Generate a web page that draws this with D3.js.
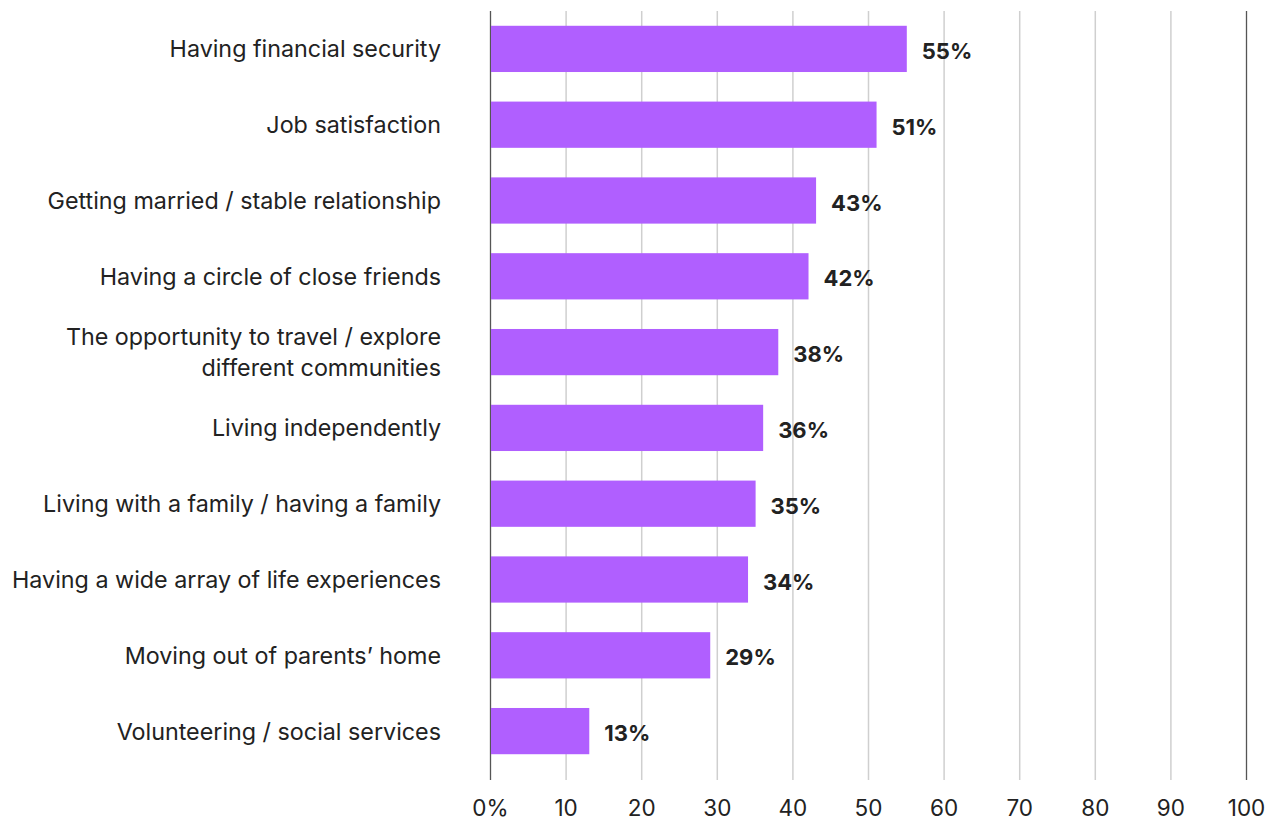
<!DOCTYPE html>
<html>
<head>
<meta charset="utf-8">
<script src="https://cdn.jsdelivr.net/npm/d3@7"></script>
<style>
  html, body { margin: 0; padding: 0; background: #fff; }
  svg { display: block; font-family: Inter, "Noto Sans", sans-serif; }
</style>
</head>
<body>
<svg id="chart" width="1274" height="830"></svg>
<script>
// Categories, top to bottom (multi-line labels split on "\n")
const categories = [
  "Having financial security",
  "Job satisfaction",
  "Getting married / stable relationship",
  "Having a circle of close friends",
  "The opportunity to travel / explore\ndifferent communities",
  "Living independently",
  "Living with a family / having a family",
  "Having a wide array of life experiences",
  "Moving out of parents\u2019 home",
  "Volunteering / social services"
];
const values = [55, 51, 43, 42, 38, 36, 35, 34, 29, 13];
const tickValues = [0, 10, 20, 30, 40, 50, 60, 70, 80, 90, 100];
const tickLabels = ["0%", "10", "20", "30", "40", "50", "60", "70", "80", "90", "100"];

const svg = d3.select("#chart");
const plotLeft = 490, plotRight = 1246, plotTop = 11, plotBottom = 769, gridBottom = 780;

const x = d3.scaleLinear().domain([0, 100]).range([plotLeft, plotRight]);
const y = d3.scaleBand().domain(categories).range([plotTop, plotBottom]).paddingInner(0.39).paddingOuter(0.195);

// vertical gridlines
svg.append("g").selectAll("line")
  .data(tickValues)
  .join("line")
  .attr("x1", d => x(d) + 0.5).attr("x2", d => x(d) + 0.5)
  .attr("y1", plotTop).attr("y2", gridBottom)
  .attr("stroke", d => (d === 0 || d === 100) ? "#555" : "#cfcfcf")
  .attr("stroke-width", d => (d === 0 || d === 100) ? 1.3 : 1.5);

// bars
svg.append("g").selectAll("rect")
  .data(values)
  .join("rect")
  .attr("x", x(0) + 1)
  .attr("y", (d, i) => y(categories[i]))
  .attr("width", d => x(d) - x(0))
  .attr("height", y.bandwidth())
  .attr("fill", "#b05fff");

// value labels
svg.append("g").selectAll("text")
  .data(values)
  .join("text")
  .attr("x", d => x(d) + 16)
  .attr("y", (d, i) => y(categories[i]) + y.bandwidth() / 2 + 2)
  .attr("dominant-baseline", "central")
  .attr("font-size", 22)
  .attr("font-weight", 700)
  .attr("fill", "#222")
  .text(d => d + "%");

// category labels
const catG = svg.append("g");
categories.forEach(c => {
  const lines = c.split("\n");
  const cy = y(c) + y.bandwidth() / 2;
  const lh = 31;
  const t = catG.append("text")
    .attr("text-anchor", "end")
    .attr("font-size", 23.3)
    .attr("fill", "#222");
  lines.forEach((ln, j) => {
    t.append("tspan")
      .attr("x", 441)
      .attr("y", cy + (j - (lines.length - 1) / 2) * lh)
      .attr("dominant-baseline", "central")
      .text(ln);
  });
});

// x axis tick labels
const axis = d3.axisBottom(x).tickValues(tickValues).tickSize(0).tickPadding(0)
  .tickFormat((d, i) => tickLabels[i]);
const ax = svg.append("g").attr("transform", `translate(0, ${gridBottom})`).call(axis);
ax.select(".domain").remove();
ax.selectAll("text")
  .attr("y", 28)
  .attr("dy", "0.35em")
  .attr("font-size", 22.5)
  .attr("font-family", "Inter, 'Noto Sans', sans-serif")
  .attr("fill", "#222");
</script>
</body>
</html>
